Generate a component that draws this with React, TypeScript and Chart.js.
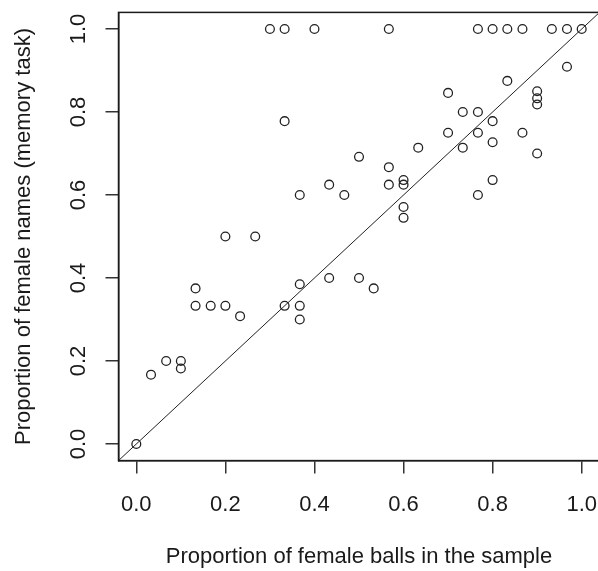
import React, { useEffect, useRef } from "react";
import { Chart, registerables } from "chart.js";

Chart.register(...registerables);

// Proportion of female balls drawn in each sample (x) and the proportion
// of female names recalled in the memory task (y), one entry per participant.
const ballsFemale = [
  0.3, 0.333, 0.4, 0.567, 0.767, 0.8, 0.833, 0.867, 0.933, 0.967, 1.0,
  0.333, 0.5, 0.433, 0.367, 0.467, 0.2, 0.267,
  0.967, 0.833, 0.7, 0.9, 0.9, 0.9, 0.733, 0.767, 0.8, 0.7, 0.767, 0.867,
  0.8, 0.733, 0.633, 0.9, 0.567, 0.567, 0.6, 0.6, 0.6, 0.6, 0.8, 0.767,
  0.133, 0.133, 0.167, 0.2, 0.233, 0.333, 0.367, 0.367, 0.367, 0.433, 0.5,
  0.533, 0.067, 0.033, 0.1, 0.1, 0.0,
];
const namesFemale = [
  1.0, 1.0, 1.0, 1.0, 1.0, 1.0, 1.0, 1.0, 1.0, 1.0, 1.0,
  0.778, 0.692, 0.625, 0.6, 0.6, 0.5, 0.5,
  0.909, 0.875, 0.846, 0.85, 0.833, 0.818, 0.8, 0.8, 0.778, 0.75, 0.75, 0.75,
  0.727, 0.714, 0.714, 0.7, 0.667, 0.625, 0.636, 0.625, 0.571, 0.545, 0.636, 0.6,
  0.375, 0.333, 0.333, 0.333, 0.308, 0.333, 0.385, 0.333, 0.3, 0.4, 0.4,
  0.375, 0.2, 0.167, 0.2, 0.182, 0.0,
];

// Axis ticks and the padded axis range (4% on either side of 0..1).
const tickValues = [0, 0.2, 0.4, 0.6, 0.8, 1.0];
const axisRange = [-0.04, 1.04];

const FONT = "'Liberation Sans', Arial, sans-serif";

const boxPlugin = {
  id: "plotBox",
  afterDraw(chart: any) {
    const { ctx, chartArea } = chart;
    ctx.save();
    ctx.strokeStyle = "#1a1a1a";
    ctx.lineWidth = 1.5;
    ctx.strokeRect(
      chartArea.left,
      chartArea.top,
      chartArea.right - chartArea.left,
      chartArea.bottom - chartArea.top
    );
    ctx.restore();
  },
};

const clearPadding = (scale: any) => {
  scale.paddingLeft = 0;
  scale.paddingRight = 0;
  scale.paddingTop = 0;
  scale.paddingBottom = 0;
};

export default function App() {
  const canvasRef = useRef<HTMLCanvasElement | null>(null);

  useEffect(() => {
    const canvas = canvasRef.current;
    if (!canvas) return;

    const points = ballsFemale.map((x, i) => ({ x, y: namesFemale[i] }));
    const identity = axisRange.map((v) => ({ x: v, y: v }));

    const axisCommon = {
      type: "linear" as const,
      min: axisRange[0],
      max: axisRange[1],
      afterBuildTicks: (scale: any) => {
        scale.ticks = tickValues.map((value) => ({ value }));
      },
      grid: {
        display: true,
        drawOnChartArea: false,
        drawTicks: true,
        tickLength: 13,
        color: "#333",
        lineWidth: 1.5,
      },
      border: { display: true, color: "#1a1a1a", width: 1.5 },
    };

    const chart = new Chart(canvas, {
      type: "scatter",
      data: {
        datasets: [
          {
            type: "line",
            data: identity,
            borderColor: "#222",
            borderWidth: 1,
            pointRadius: 0,
            fill: false,
            order: 2,
          } as any,
          {
            type: "scatter",
            data: points,
            pointStyle: "circle",
            pointRadius: 4.4,
            pointBorderWidth: 1.3,
            borderColor: "#222",
            backgroundColor: "rgba(0,0,0,0)",
            pointBackgroundColor: "rgba(0,0,0,0)",
            order: 1,
          } as any,
        ],
      },
      options: {
        responsive: false,
        animation: false,
        devicePixelRatio: 1,
        layout: {
          autoPadding: false,
          padding: { top: 12.4, right: 2.5, left: 0, bottom: 0 },
        },
        plugins: {
          legend: { display: false },
          tooltip: { enabled: false },
        },
        scales: {
          x: {
            ...axisCommon,
            position: "bottom",
            afterFit: (scale: any) => {
              scale.height = 110.4;
              clearPadding(scale);
            },
            ticks: {
              color: "#1a1a1a",
              font: { family: FONT, size: 22, lineHeight: 1.2 },
              padding: 18,
              maxRotation: 0,
              minRotation: 0,
              callback: (v: any) => Number(v).toFixed(1),
            },
            title: {
              display: true,
              text: "Proportion of female balls in the sample",
              color: "#1a1a1a",
              font: { family: FONT, size: 22, lineHeight: 1.2 },
              padding: { top: 0, bottom: 0.5 },
            },
          },
          y: {
            ...axisCommon,
            position: "left",
            afterFit: (scale: any) => {
              scale.width = 118.5;
              clearPadding(scale);
            },
            ticks: {
              color: "#1a1a1a",
              font: { family: FONT, size: 22, lineHeight: 1.2 },
              padding: 11,
              minRotation: 90,
              maxRotation: 90,
              crossAlign: "center",
              callback: (v: any) => Number(v).toFixed(1),
            },
            title: {
              display: true,
              text: "Proportion of female names (memory task)",
              color: "#1a1a1a",
              font: { family: FONT, size: 22, lineHeight: 1.2 },
              padding: { top: 11, bottom: 0 },
            },
          },
        },
      },
      plugins: [boxPlugin],
    });

    return () => chart.destroy();
  }, []);

  return (
    <div
      style={{
        position: "fixed",
        left: 0,
        top: 0,
        width: 598,
        height: 571,
        overflow: "hidden",
        background: "#fff",
      }}
    >
      <canvas
        ref={canvasRef}
        width={602}
        height={571}
        style={{ display: "block", width: 602, height: 571 }}
      />
    </div>
  );
}
